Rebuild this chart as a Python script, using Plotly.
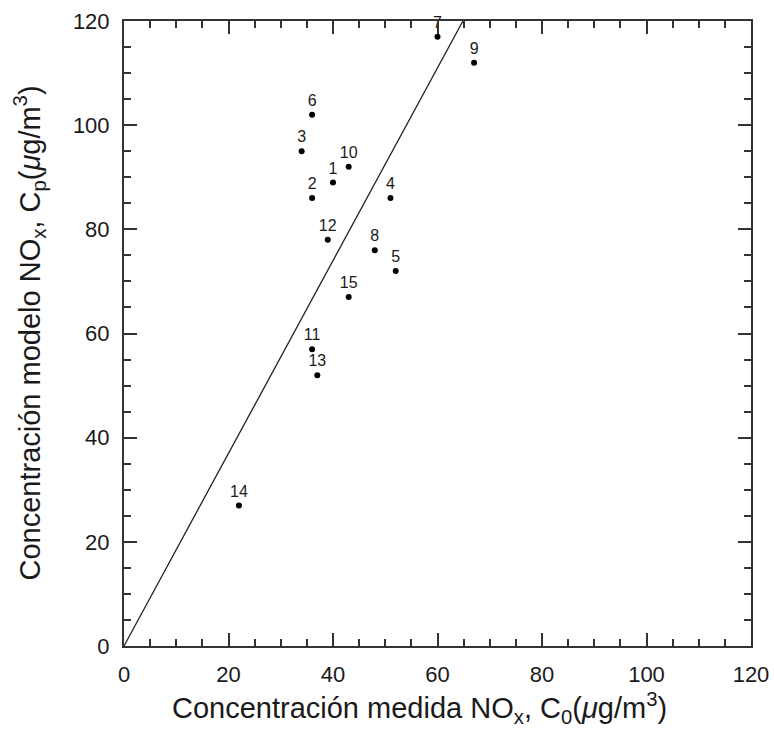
import plotly.graph_objects as go

# Data
point_labels = ["1", "2", "3", "4", "5", "6", "7", "8", "9", "10", "11", "12", "13", "14", "15"]
c0_measured = [40, 36, 34, 51, 52, 36, 60, 48, 67, 43, 36, 39, 37, 22, 43]
cp_model = [89, 86, 95, 86, 72, 102, 117, 76, 112, 92, 57, 78, 52, 27, 67]
fit_slope = 1.85
axis_max = 120
x_title = "Concentración medida NO<sub>x</sub>, C<sub>0</sub>(<i>μ</i>g/m<sup>3</sup>)"
y_title = "Concentración modelo NO<sub>x</sub>, C<sub>p</sub>(<i>μ</i>g/m<sup>3</sup>)"

FONT = "Liberation Sans, Arial, sans-serif"
INK = "#1a1a1a"

fig = go.Figure()

line_x = [0, axis_max / fit_slope]
line_y = [fit_slope * v for v in line_x]
fig.add_trace(go.Scatter(
    x=line_x, y=line_y, mode="lines",
    line=dict(color="#222", width=1.3),
    hoverinfo="skip", showlegend=False,
))

fig.add_trace(go.Scatter(
    x=c0_measured, y=cp_model, mode="markers+text",
    text=point_labels, textposition="top center",
    textfont=dict(family=FONT, size=16, color=INK),
    marker=dict(color="black", size=6),
    cliponaxis=False, showlegend=False,
))

axis_common = dict(
    range=[0, axis_max], tick0=0, dtick=20,
    ticks="inside", ticklen=13, tickwidth=1.8, tickcolor="#333",
    minor=dict(ticks="inside", ticklen=7, tickwidth=1.8, tickcolor="#333", dtick=5),
    showline=True, linecolor="#333", linewidth=2, mirror="ticks",
    showgrid=False, zeroline=False, automargin=False,
    tickfont=dict(family=FONT, size=22, color=INK),
    ticklabelstandoff=8,
)

fig.update_xaxes(**axis_common)
fig.update_yaxes(**axis_common)

fig.add_annotation(
    text=x_title, xref="paper", yref="paper", x=0.472, y=0,
    xanchor="center", yanchor="middle", yshift=-62, showarrow=False,
    font=dict(family=FONT, size=29, color=INK),
)
fig.add_annotation(
    text=y_title, xref="paper", yref="paper", x=0, y=0.5, textangle=-90,
    xanchor="center", yanchor="middle", xshift=-95, showarrow=False,
    font=dict(family=FONT, size=29, color=INK),
)

fig.update_layout(
    width=774, height=729,
    margin=dict(l=124, r=23, t=21, b=83),
    plot_bgcolor="white", paper_bgcolor="white",
    showlegend=False,
)

fig.write_html("out.html")
